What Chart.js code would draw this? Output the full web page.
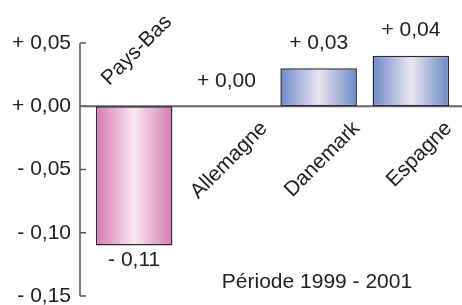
<!DOCTYPE html>
<html>
<head>
<meta charset="utf-8">
<script src="https://cdn.jsdelivr.net/npm/chart.js@4/dist/chart.umd.min.js"></script>
<style>
  html, body { margin: 0; padding: 0; background: #fff; }
  #wrap { width: 462px; height: 305px; }
</style>
</head>
<body>
<div id="wrap"><canvas id="chart"></canvas></div>
<script>
const countries = ["Pays-Bas", "Allemagne", "Danemark", "Espagne"];
const changes = [-0.11, 0.00, 0.03, 0.04];
const yTicks = [0.05, 0.00, -0.05, -0.10, -0.15];
const periodLabel = "Période 1999 - 2001";

const FONT = "'Liberation Sans', Arial, sans-serif";
const TEXT = "#222";
const AXIS = "#555";
const BAR_PCT = 0.83;

function fmt(v) {
  const sign = v < 0 ? "- " : "+ ";
  return sign + Math.abs(v).toFixed(2).replace(".", ",");
}

function barGradient(ctx) {
  const chart = ctx.chart;
  const x = chart.scales.x;
  if (!x || !chart.chartArea) return "#ccc";
  const cx = x.getPixelForValue(ctx.dataIndex);
  const half = (x.getPixelForValue(1) - x.getPixelForValue(0)) * BAR_PCT / 2;
  const g = chart.ctx.createLinearGradient(cx - half, 0, cx + half, 0);
  if (changes[ctx.dataIndex] < 0) {
    g.addColorStop(0, "#d479b0");
    g.addColorStop(0.5, "#f9e8f2");
    g.addColorStop(1, "#d479b0");
  } else {
    g.addColorStop(0, "#6a8ac6");
    g.addColorStop(0.5, "#ece5f1");
    g.addColorStop(1, "#6a8ac6");
  }
  return g;
}

const axisPlugin = {
  id: "axisPlugin",
  beforeDatasetsDraw(chart) {
    const { ctx, chartArea } = chart;
    const y = chart.scales.y;
    const ax = chartArea.left - 8;
    ctx.save();
    ctx.strokeStyle = AXIS;
    ctx.lineWidth = 1.5;
    ctx.beginPath();
    ctx.moveTo(ax, y.getPixelForValue(yTicks[0]));
    ctx.lineTo(ax, y.getPixelForValue(yTicks[yTicks.length - 1]));
    yTicks.forEach(t => {
      const py = y.getPixelForValue(t);
      ctx.moveTo(ax, py);
      ctx.lineTo(ax + 6, py);
    });
    ctx.stroke();
    // zero line
    ctx.lineWidth = 2;
    ctx.strokeStyle = "#666";
    ctx.beginPath();
    const zy = y.getPixelForValue(0);
    ctx.moveTo(ax, zy);
    ctx.lineTo(chart.width, zy);
    ctx.stroke();
    ctx.restore();
  },
  afterDatasetsDraw(chart) {
    const { ctx } = chart;
    const y = chart.scales.y;
    const zy = y.getPixelForValue(0);
    const meta = chart.getDatasetMeta(0);
    ctx.save();
    ctx.fillStyle = TEXT;
    ctx.font = "21px " + FONT;
    meta.data.forEach((bar, i) => {
      const v = changes[i];
      // value labels
      ctx.textAlign = "center";
      ctx.textBaseline = "middle";
      if (v < 0) {
        ctx.fillText(fmt(v), bar.x, bar.y + 15);
      } else {
        ctx.fillText(fmt(v), bar.x, bar.y - 25);
      }
      // rotated country labels
      ctx.save();
      ctx.textBaseline = "alphabetic";
      if (v < 0) {
        ctx.translate(bar.x - 25, zy - 20);
        ctx.rotate(-Math.PI / 4);
        ctx.textAlign = "left";
      } else {
        ctx.translate(bar.x + 42, zy + 23);
        ctx.rotate(-Math.PI / 4);
        ctx.textAlign = "right";
      }
      ctx.fillText(countries[i], 0, 0);
      ctx.restore();
    });
    ctx.textAlign = "center";
    ctx.textBaseline = "middle";
    ctx.fillText(periodLabel, 317, 282);
    ctx.restore();
  }
};

new Chart(document.getElementById("chart"), {
  type: "bar",
  data: {
    labels: countries,
    datasets: [{
      data: changes,
      backgroundColor: barGradient,
      borderColor: "#2a2a36",
      borderWidth: ctx => (changes[ctx.dataIndex] === 0 ? 0 : 1.5),
      borderSkipped: false,
      categoryPercentage: 1,
      barPercentage: BAR_PCT
    }]
  },
  options: {
    responsive: true,
    maintainAspectRatio: false,
    animation: false,
    layout: { padding: { top: 43, bottom: 9, right: 5, left: 0 } },
    plugins: { legend: { display: false }, tooltip: { enabled: false } },
    scales: {
      x: {
        display: false,
        offset: true,
        grid: { display: false }
      },
      y: {
        min: -0.15,
        max: 0.05,
        afterFit: s => {
          s.width = 88;
          s.paddingTop = 0;
          s.paddingBottom = 0;
        },
        afterBuildTicks: s => { s.ticks = yTicks.map(v => ({ value: v })); },
        grid: { display: false, drawTicks: false },
        border: { display: false },
        ticks: {
          padding: 17,
          color: TEXT,
          font: { family: FONT, size: 21 },
          callback: v => fmt(v)
        }
      }
    }
  },
  plugins: [axisPlugin]
});
</script>
</body>
</html>
